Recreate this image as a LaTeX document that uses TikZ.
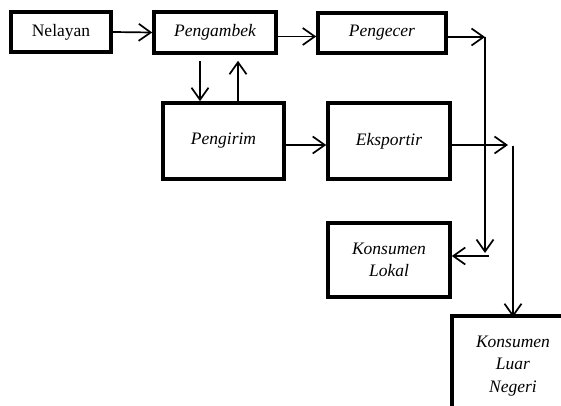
\documentclass[tikz,border=0pt]{standalone}
\usepackage{fontspec}
\setmainfont{Liberation Serif}
\usetikzlibrary{arrows.meta}

\tikzset{
  kotak/.style={rectangle,draw,line width=3.6pt,inner sep=2pt,align=center,
    font=\fontsize{17.5}{22.5}\selectfont\itshape},
  panah/.style={-{Straight Barb[length=12pt,width=17pt]},line width=1.7pt},
}

\begin{document}
\begin{tikzpicture}[x=1pt,y=-1pt]
        \useasboundingbox (0,0) rectangle (561,406);

        % rantai atas
        \node[kotak,minimum width=100pt,minimum height=40pt,font=\fontsize{17.5}{22.5}\selectfont] (nelayan) at (61,32) {Nelayan};
        \node[kotak,minimum width=122pt,minimum height=41pt] (pengambek) at (215,32.5) {Pengambek};
        \node[kotak,minimum width=128pt,minimum height=40pt] (pengecer) at (382,33) {Pengecer};

        % rantai tengah
        \node[kotak,minimum width=121pt,minimum height=76pt] (pengirim) at (223.5,141) {Pengirim};
        \node[kotak,minimum width=122pt,minimum height=76pt] (eksportir) at (389,141) {Eksportir};

        % konsumen
        \node[kotak,minimum width=122pt,minimum height=74pt] (lokal) at (389,260) {Konsumen\\Lokal};
        \node[kotak,minimum width=122pt,minimum height=100pt] (luar) at (513,366) {Konsumen\\Luar\\Negeri};

        % titik belok
        \coordinate (b1) at (485,37);
        \coordinate (b2) at (485,253);
        \coordinate (b3) at (489,256);
        \coordinate (b4) at (508,145);
        \coordinate (b5) at (513,146);

        % panah
        \draw[panah] (nelayan.east) -- (pengambek.west);
        \draw[panah] ([yshift=-4pt]pengambek.east) -- ([yshift=-3.5pt]pengecer.west);
        \draw[panah] ([xshift=-15pt,yshift=-6pt]pengambek.south) -- ([xshift=-23.5pt]pengirim.north);
        \draw[panah] ([xshift=14.5pt]pengirim.north) -- ([xshift=23pt,yshift=-6pt]pengambek.south);
        \draw[panah] ([yshift=-4pt]pengirim.east) -- ([yshift=-4pt]eksportir.west);
        \draw[panah] (pengecer.east |- b1) -- (b1);
        \draw[panah] (b1) -- (b2);
        \draw[panah] (b3) -- (lokal.east |- b3);
        \draw[panah] ([yshift=-4pt]eksportir.east) -- (b4);
        \draw[panah] (b5) -- ([yshift=-3pt]luar.north -| b5);
    \end{tikzpicture}
\end{document}
